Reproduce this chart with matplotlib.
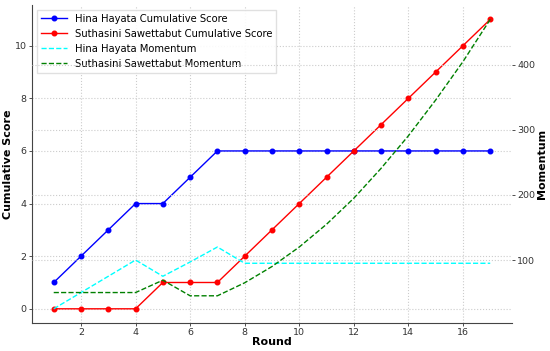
import matplotlib
matplotlib.use("Agg")
import matplotlib.pyplot as plt

rounds = list(range(1, 18))
hina_score = [1, 2, 3, 4, 4, 5, 6, 6, 6, 6, 6, 6, 6, 6, 6, 6, 6]
suth_score = [0, 0, 0, 0, 1, 1, 1, 2, 3, 4, 5, 6, 7, 8, 9, 10, 11]
hina_mom = [25, 50, 75, 100, 75, 97, 120, 95, 95, 95, 95, 95, 95, 95, 95, 95, 95]
suth_mom = [50, 50, 50, 50, 69, 45, 45, 65, 90, 120, 155, 195, 241, 291, 346, 405, 470]

fig = plt.figure(figsize=(5.5, 3.51), dpi=100)
ax1 = fig.add_axes([0.058, 0.079, 0.873, 0.907])
ax2 = ax1.twinx()

l1, = ax1.plot(rounds, hina_score, color="blue", marker="o", markersize=3.3, lw=1, label="Hina Hayata Cumulative Score")
l2, = ax1.plot(rounds, suth_score, color="red", marker="o", markersize=3.3, lw=1, label="Suthasini Sawettabut Cumulative Score")
l3, = ax2.plot(rounds, hina_mom, color="cyan", ls="--", lw=1, label="Hina Hayata Momentum")
l4, = ax2.plot(rounds, suth_mom, color="green", ls="--", lw=1, label="Suthasini Sawettabut Momentum")

ax1.set_xlabel("Round", fontsize=8, fontweight="bold", labelpad=0)
ax1.set_ylabel("Cumulative Score", fontsize=8, fontweight="bold", labelpad=1)
ax2.set_ylabel("Momentum", fontsize=8, fontweight="bold", labelpad=1)

ax1.set_xticks([2, 4, 6, 8, 10, 12, 14, 16])
ax1.set_yticks([0, 2, 4, 6, 8, 10])
ax2.set_yticks([100, 200, 300, 400])

for ax in (ax1, ax2):
    ax.grid(True, ls=":", color="#cccccc", lw=0.8)
    ax.tick_params(labelsize=6.8, colors="#333333", length=2.2, width=0.6, pad=1.5)
    for s in ("top", "right"):
        ax.spines[s].set_visible(False)
ax2.spines["left"].set_visible(False)
ax2.spines["bottom"].set_visible(False)
ax1.spines["left"].set_color("#444444")
ax1.spines["bottom"].set_color("#444444")
ax1.xaxis.grid(True)
ax2.xaxis.grid(False)

ax1.legend(handles=[l1, l2, l3, l4], loc="upper left", fontsize=7.2, frameon=True,
           framealpha=0.9, edgecolor="#dddddd", fancybox=False, handlelength=2.6,
           borderaxespad=0.5)

fig.savefig("out.png", dpi=100)
